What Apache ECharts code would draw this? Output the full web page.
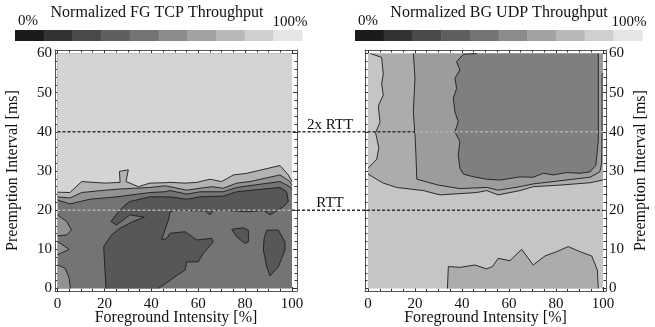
<!DOCTYPE html>
<html><head><meta charset="utf-8">
<script src="https://cdn.jsdelivr.net/npm/echarts@6/dist/echarts.min.js"></script>
<style>html,body{margin:0;padding:0;background:#fff}#c{width:655px;height:327px}</style>
</head><body><div id="c"></div><script>
const FONT = "'Liberation Serif','Times New Roman',serif";

// ---- tick labels ----
const xTicks = [0, 20, 40, 60, 80, 100];
const xMinorTicks = [5, 10, 15, 25, 30, 35, 45, 50, 55, 65, 70, 75, 85, 90, 95];
const yTicks = [0, 10, 20, 30, 40, 50, 60];
const yMinorTicks = [2, 4, 6, 8, 12, 14, 16, 18, 22, 24, 26, 28, 32, 34, 36, 38, 42, 44, 46, 48, 52, 54, 56, 58];
const xName = 'Foreground Intensity [%]';
const yName = 'Preemption Interval [ms]';
const titles = ['Normalized FG TCP Throughput', 'Normalized BG UDP Throughput'];
const barEnds = ['0%', '100%'];

// ---- reference lines (ms) ----
const rttValues = [40, 20];
const rttNames = ['2x RTT', 'RTT'];

// ---- FG TCP throughput contours, points [intensity %, interval ms] ----
const fgLine1 = [[0,24.6],[5.3,24.5],[10.3,27.3],[20.3,26.9],[26.7,27.1],[26.4,29.9],[30.2,30.3],[29.2,27.3],[34.5,26.0],[39.4,26.9],[45.8,27.0],[48,27.1],[54.4,26.9],[59.4,27.1],[65,27.9],[70,27.3],[75,29.0],[80.7,29.4],[94.9,31.4],[98.4,29.0],[100,27.3]];
const fgLine2 = [[0,23.4],[5.3,23.1],[10.3,24.5],[20.3,25.1],[26.7,25.4],[39.4,25.8],[45.8,26.2],[48,26.0],[55.1,25.1],[60.8,25.6],[65.8,26.0],[70.7,25.6],[76.4,26.9],[82.1,27.3],[94.9,29.0],[99.1,27.3],[100,26.4]];
const fgLine3 = [[0,22.6],[5.3,21.6],[13.9,22.8],[25.2,23.4],[39.4,24.5],[45.8,24.7],[48,25.0],[55.1,24.1],[60.8,24.7],[70.7,24.7],[76.4,25.8],[94.9,27.3],[99.1,26.0],[100,25.3]];
const fgEdgeA = [[0,18.8],[3.9,17.1],[6.0,14.9],[3.9,13.7],[0,13.4]];
const fgEdgeB = [[0,12.0],[5.0,10.0],[0,8.6]];
const fgEdgeC = [[0,6.0],[3.2,5.2],[5.0,2.6],[5.5,0]];
const fgDark = [[20.7,0],[20.2,5],[19.7,10.7],[23.1,13.7],[26.7,15.4],[32.3,17.1],[37,18.2],[30.9,18.8],[25.2,16.2],[22.8,17.1],[26,19.6],[28.8,21.3],[30.9,22.2],[39.4,23.4],[48,23.4],[55.1,22.8],[60.8,23.4],[70.7,23.6],[76.4,24.7],[94.9,25.8],[97.7,24.7],[98.4,22.2],[96.3,20.9],[90.6,18.8],[88,19.9],[80.7,19.6],[70.7,20],[66.5,20],[65,18.8],[63,19.8],[50,20],[48,19.6],[47.3,17.5],[45.8,14.9],[44.4,12.4],[46.6,12.8],[48,14.1],[54.4,14.5],[59.4,12.4],[65.8,12.8],[66.4,11.9],[62.2,9.0],[60,6.8],[55.1,6.8],[54.4,4.7],[50.1,3.0],[43,0]];
const fgIsland1 = [[74.3,15.1],[79.2,15.5],[81.4,14.9],[81.4,11.9],[80,11.5],[76.4,13.2]];
const fgIsland2 = [[89.2,14.9],[94.2,14.9],[97,11.9],[97,9.8],[94.2,5.6],[90.6,3.2],[89.2,5.6],[87.8,9.8],[88.1,12.8]];

// ---- BG UDP throughput contours ----
const bgLine0 = [[1,60],[5.8,59],[6.5,54.7],[5.8,52.2],[6.5,49.4],[4.4,46.6],[5.1,42.4],[3.2,39.8],[4.6,36],[3.7,33],[0,30.7]];
const bgLine1 = [[0,29.2],[6.5,26.9],[12.2,25.8],[23.5,25.0],[30.6,23.9],[46.3,24.5],[50.5,25.0],[55.4,23.9],[64.7,25.0],[70.3,26.0],[81.7,26.4],[94.5,27.0],[100,27.7]];
const bgLine2 = [[19.3,60],[20,53.7],[19.3,45.1],[20,39.2],[20.4,34.1],[20.7,29],[20.8,27.9],[29.9,26.4],[39.1,25.5],[50.5,25.8],[55.4,25.1],[64.7,26],[70.3,26.7],[81.7,27.5],[94.5,28.4],[98.7,29.8],[99.4,32],[99.6,40],[99.6,54.5],[100,55]];
const bgLine3 = [[46.2,60],[40.6,59.8],[37.7,57.9],[39.1,55.8],[37,53.7],[37.7,51.1],[36.3,48.6],[37,45.1],[38.4,42.6],[37,40],[39.1,37.5],[38.4,34.1],[39.1,30.7],[40.6,29.2],[45,28.5],[50.5,27.9],[56.2,27.7],[64.7,28.5],[70.3,28.4],[74.6,29.4],[78.9,29],[84.6,29.6],[90.2,29.4],[94.5,29.8],[97,31.5],[98,37.9],[98,60]];
const bgIsland = [[33.8,0],[34.2,5.6],[39.1,5.4],[45.5,6.0],[50.5,5.0],[53,5.6],[55.4,7.7],[60.4,7.1],[65.4,10.0],[70.3,6.0],[75.3,8.3],[80.3,9.4],[85.2,10.7],[90.2,9.4],[95.2,8.3],[97.6,4.7],[98,0]];

// plot area corners (data units)
const areaCorners = [[0,0],[100,0],[100,60],[0,60]];

// ---- styles ----
const colorbarColors = ['#1b1b1b','#333333','#4a4a4a','#5f5f5f','#747474','#8b8b8b','#a2a2a2','#b8b8b8','#cfcfcf','#e5e5e5'];
const fgColors = {1:'#575757', 2:'#747474', 3:'#929292', 4:'#b3b3b3', 5:'#d4d4d4'};
const bgColors = {0:'#c5c5c5', 1:'#acacac', 2:'#9c9c9c', 3:'#7f7f7f'};

const fgRegions = [
  {line: areaCorners, level: 2, stroke: false},
  {line: fgLine3, close: [[100,60],[0,60]], level: 3},
  {line: fgLine2, close: [[100,60],[0,60]], level: 4},
  {line: fgLine1, close: [[100,60],[0,60]], level: 5},
  {line: fgEdgeA, level: 3},
  {line: fgEdgeB, level: 3},
  {line: fgEdgeC, close: [[0,0]], level: 3},
  {line: fgDark, level: 1},
  {line: fgIsland1, level: 1, closed: true},
  {line: fgIsland2, level: 1, closed: true}
];
const bgRegions = [
  {line: areaCorners, level: 0, stroke: false},
  {line: bgLine1, close: [[100,60],[0,60]], level: 1},
  {line: bgLine2, close: [[100,60]], level: 2},
  {line: bgLine3, level: 3},
  {line: bgLine0, close: [[0,60]], level: 0},
  {line: bgIsland, level: 1}
];

// layout
const G = [
  {left: 55, top: 50, width: 242, height: 241, xr: [-1.066, 102.13], yr: [-0.638, 60.89], side: 'left', nameGap: 34},
  {left: 365, top: 50, width: 241, height: 241, xr: [-1.277, 101.28], yr: [-0.638, 60.89], side: 'right', nameGap: 27}
];

const txt = {fontFamily: FONT, color: '#111'};
const xAxes = [], yAxes = [], grids = [], series = [];
G.forEach((g, gi) => {
  grids.push({left: g.left, top: g.top, width: g.width, height: g.height, show: false,
    containLabel: false, outerBoundsMode: 'none'});
  const lineS = {show: true, onZero: false, lineStyle: {color: '#555', width: 1}};
  const base = {gridIndex: gi, type: 'value', min: g.xr[0], max: g.xr[1], splitLine: {show: false}};
  xAxes.push(Object.assign({}, base, {position: 'bottom', axisLine: lineS,
    axisTick: {show: true, inside: true, length: 4, customValues: xTicks, lineStyle: {color: '#333'}},
    axisLabel: {show: true, customValues: xTicks, margin: 6, fontSize: 15, ...txt},
    name: xName, nameLocation: 'middle', nameGap: 19, nameMoveOverlap: false, nameTextStyle: {fontSize: 16, ...txt}}));
  xAxes.push(Object.assign({}, base, {position: 'top', axisLine: lineS,
    axisTick: {show: true, inside: true, length: 4, customValues: xTicks, lineStyle: {color: '#333'}},
    axisLabel: {show: false}}));
  xAxes.push(Object.assign({}, base, {position: 'bottom', axisLine: {show: false, onZero: false},
    axisTick: {show: true, inside: true, length: 2.5, customValues: xMinorTicks, lineStyle: {color: '#333'}},
    axisLabel: {show: false}}));
  xAxes.push(Object.assign({}, base, {position: 'top', axisLine: {show: false, onZero: false},
    axisTick: {show: true, inside: true, length: 2.5, customValues: xMinorTicks, lineStyle: {color: '#333'}},
    axisLabel: {show: false}}));
  const ybase = {gridIndex: gi, type: 'value', min: g.yr[0], max: g.yr[1], splitLine: {show: false}};
  const other = g.side === 'left' ? 'right' : 'left';
  yAxes.push(Object.assign({}, ybase, {position: g.side, axisLine: lineS,
    axisTick: {show: true, inside: true, length: 4, customValues: yTicks, lineStyle: {color: '#333'}},
    axisLabel: {show: true, customValues: yTicks, margin: 3, fontSize: 15, ...txt},
    name: yName, nameLocation: 'middle', nameGap: g.nameGap, nameRotate: 90, nameMoveOverlap: false,
    nameTextStyle: {fontSize: 16, ...txt}}));
  yAxes.push(Object.assign({}, ybase, {position: other, axisLine: lineS,
    axisTick: {show: true, inside: true, length: 4, customValues: yTicks, lineStyle: {color: '#333'}},
    axisLabel: {show: false}}));
  yAxes.push(Object.assign({}, ybase, {position: g.side, axisLine: {show: false, onZero: false},
    axisTick: {show: true, inside: true, length: 2.5, customValues: yMinorTicks, lineStyle: {color: '#333'}},
    axisLabel: {show: false}}));
  yAxes.push(Object.assign({}, ybase, {position: other, axisLine: {show: false, onZero: false},
    axisTick: {show: true, inside: true, length: 2.5, customValues: yMinorTicks, lineStyle: {color: '#333'}},
    axisLabel: {show: false}}));

  const regions = gi === 0 ? fgRegions : bgRegions;
  const colors = gi === 0 ? fgColors : bgColors;
  series.push({
    type: 'custom', xAxisIndex: gi * 4, yAxisIndex: gi * 4, silent: true, clip: true,
    data: regions.map(() => [0, 0]),
    renderItem: (params, api) => {
      const r = regions[params.dataIndex];
      const pts = r.line.concat(r.close || []).map(p => api.coord(p));
      return {type: 'polygon', shape: {points: pts}, style: {fill: colors[r.level], stroke: null, lineWidth: 0}};
    }
  });
  const strokes = regions.filter(r => r.stroke !== false);
  series.push({
    type: 'custom', xAxisIndex: gi * 4, yAxisIndex: gi * 4, silent: true, clip: true,
    data: strokes.map(() => [0, 0]),
    renderItem: (params, api) => {
      const r = strokes[params.dataIndex];
      const pts = r.line.map(p => api.coord(p));
      return {type: r.closed ? 'polygon' : 'polyline', shape: {points: pts},
        style: {fill: 'none', stroke: '#1c1c1c', lineWidth: 0.9}};
    }
  });
});

// colorbars and titles
const bars = [{x0: 15, x1: 302, titleX: 157, lowX: 28, highX: 290}, {x0: 355, x1: 642, titleX: 499, lowX: 368, highX: 629}];
const graphic = [];
bars.forEach((b, bi) => {
  const w = (b.x1 - b.x0) / colorbarColors.length;
  colorbarColors.forEach((c, i) => {
    graphic.push({type: 'rect', shape: {x: b.x0 + i * w, y: 30, width: w + 0.5, height: 11}, style: {fill: c}, silent: true});
  });
  graphic.push({type: 'text', x: b.titleX, y: 13, style: {text: titles[bi], font: '16px ' + FONT, fill: '#111', textAlign: 'center', textVerticalAlign: 'middle'}});
  graphic.push({type: 'text', x: b.lowX, y: 21, style: {text: barEnds[0], font: '15px ' + FONT, fill: '#111', textAlign: 'center', textVerticalAlign: 'middle'}});
  graphic.push({type: 'text', x: b.highX, y: 22, style: {text: barEnds[1], font: '15px ' + FONT, fill: '#111', textAlign: 'center', textVerticalAlign: 'middle'}});
});

const chart = echarts.init(document.getElementById('c'), null, {renderer: 'canvas'});
chart.setOption({
  backgroundColor: '#fff', animation: false,
  grid: grids, xAxis: xAxes, yAxis: yAxes, series: series, graphic: graphic
});

// dashed reference lines across both panels
const L = p => chart.convertToPixel({xAxisIndex: 0, yAxisIndex: 0}, p);
const R = p => chart.convertToPixel({xAxisIndex: 4, yAxisIndex: 4}, p);
const dark = '#333', light = '#a9b0b6';
const segs = [
  [L([0, rttValues[0]]), R([20, rttValues[0]]), dark],
  [R([20, rttValues[0]]), R([100, rttValues[0]]), light],
  [L([0, rttValues[1]]), L([100, rttValues[1]]), light],
  [L([100, rttValues[1]]), R([100, rttValues[1]]), dark]
];
const extra = graphic.slice();
segs.forEach(s => extra.push({type: 'line', shape: {x1: s[0][0], y1: s[0][1], x2: s[1][0], y2: s[1][1]},
  style: {stroke: s[2], lineWidth: 1.5, lineDash: [3, 2]}, silent: true, z: 10}));
rttValues.forEach((v, i) => {
  const a = L([100, v]), b = R([0, v]);
  extra.push({type: 'text', x: (a[0] + b[0]) / 2, y: a[1] - 7, z: 10,
    style: {text: rttNames[i], font: '15px ' + FONT, fill: '#111', textAlign: 'center', textVerticalAlign: 'middle'}});
});
chart.setOption({graphic: extra}, {replaceMerge: ['graphic']});
</script></body></html>
